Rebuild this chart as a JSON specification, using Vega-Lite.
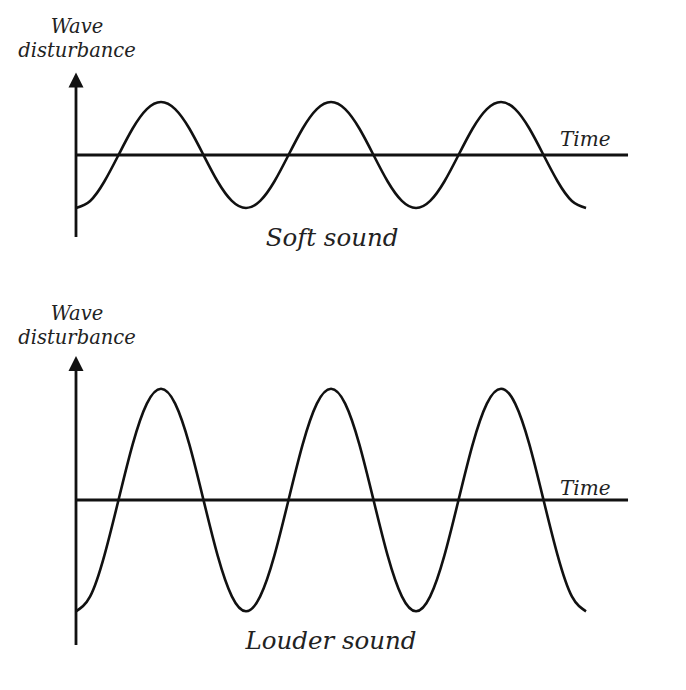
{
  "$schema": "https://vega.github.io/schema/vega-lite/v6.json",
  "padding": 0,
  "spacing": 0,
  "background": "white",
  "config": {"view": {"stroke": null}, "concat": {"spacing": 0}},
  "datasets": {
    "soft": [
      {"t":0,"v":-1},{"t":0.0833,"v":-0.866},{"t":0.1667,"v":-0.5},{"t":0.25,"v":0},{"t":0.3333,"v":0.5},{"t":0.4167,"v":0.866},{"t":0.5,"v":1},{"t":0.5833,"v":0.866},{"t":0.6667,"v":0.5},{"t":0.75,"v":0},{"t":0.8333,"v":-0.5},{"t":0.9167,"v":-0.866},
      {"t":1,"v":-1},{"t":1.0833,"v":-0.866},{"t":1.1667,"v":-0.5},{"t":1.25,"v":0},{"t":1.3333,"v":0.5},{"t":1.4167,"v":0.866},{"t":1.5,"v":1},{"t":1.5833,"v":0.866},{"t":1.6667,"v":0.5},{"t":1.75,"v":0},{"t":1.8333,"v":-0.5},{"t":1.9167,"v":-0.866},
      {"t":2,"v":-1},{"t":2.0833,"v":-0.866},{"t":2.1667,"v":-0.5},{"t":2.25,"v":0},{"t":2.3333,"v":0.5},{"t":2.4167,"v":0.866},{"t":2.5,"v":1},{"t":2.5833,"v":0.866},{"t":2.6667,"v":0.5},{"t":2.75,"v":0},{"t":2.8333,"v":-0.5},{"t":2.9167,"v":-0.866},
      {"t":3,"v":-1}
    ],
    "loud": [
      {"t":0,"v":-2.1},{"t":0.0833,"v":-1.819},{"t":0.1667,"v":-1.05},{"t":0.25,"v":0},{"t":0.3333,"v":1.05},{"t":0.4167,"v":1.819},{"t":0.5,"v":2.1},{"t":0.5833,"v":1.819},{"t":0.6667,"v":1.05},{"t":0.75,"v":0},{"t":0.8333,"v":-1.05},{"t":0.9167,"v":-1.819},
      {"t":1,"v":-2.1},{"t":1.0833,"v":-1.819},{"t":1.1667,"v":-1.05},{"t":1.25,"v":0},{"t":1.3333,"v":1.05},{"t":1.4167,"v":1.819},{"t":1.5,"v":2.1},{"t":1.5833,"v":1.819},{"t":1.6667,"v":1.05},{"t":1.75,"v":0},{"t":1.8333,"v":-1.05},{"t":1.9167,"v":-1.819},
      {"t":2,"v":-2.1},{"t":2.0833,"v":-1.819},{"t":2.1667,"v":-1.05},{"t":2.25,"v":0},{"t":2.3333,"v":1.05},{"t":2.4167,"v":1.819},{"t":2.5,"v":2.1},{"t":2.5833,"v":1.819},{"t":2.6667,"v":1.05},{"t":2.75,"v":0},{"t":2.8333,"v":-1.05},{"t":2.9167,"v":-1.819},
      {"t":3,"v":-2.1}
    ]
  },
  "vconcat": [
    {
      "width": 686,
      "height": 290,
      "layer": [
        {
          "data": {"values": [{"x": 0, "y1": -1.547, "y2": 1.35}]},
          "mark": {"type": "rule", "color": "#111", "strokeWidth": 2.8},
          "encoding": {
            "x": {"field": "x", "type": "quantitative", "axis": null, "scale": {"domain": [-0.447, 3.588], "nice": false, "zero": false}},
            "y": {"field": "y1", "type": "quantitative", "axis": null, "scale": {"domain": [-2.547, 2.925], "nice": false, "zero": false}},
            "y2": {"field": "y2"}
          }
        },
        {
          "data": {"values": [{"x1": 0, "x2": 3.247, "y": 0}]},
          "mark": {"type": "rule", "color": "#111", "strokeWidth": 2.8},
          "encoding": {
            "x": {"field": "x1", "type": "quantitative"},
            "x2": {"field": "x2"},
            "y": {"field": "y", "type": "quantitative"}
          }
        },
        {
          "data": {"values": [{"x": 0, "y": 1.415}]},
          "mark": {"type": "point", "shape": "M0,-1L1,1L-1,1Z", "size": 225, "filled": true, "color": "#111", "opacity": 1, "strokeWidth": 0},
          "encoding": {
            "x": {"field": "x", "type": "quantitative"},
            "y": {"field": "y", "type": "quantitative"}
          }
        },
        {
          "data": {"name": "soft"},
          "mark": {"type": "line", "interpolate": "natural", "color": "#111", "strokeWidth": 2.6},
          "encoding": {
            "x": {"field": "t", "type": "quantitative"},
            "y": {"field": "v", "type": "quantitative"}
          }
        },
        {
          "data": {"values": [{"x": 0.006, "y": 2.302, "label": "Wave"}, {"x": 0.006, "y": 1.849, "label": "disturbance"}]},
          "mark": {"type": "text", "font": "DejaVu Serif", "fontStyle": "italic", "fontSize": 19.5, "align": "center", "baseline": "alphabetic", "color": "#222"},
          "encoding": {
            "x": {"field": "x", "type": "quantitative"},
            "y": {"field": "y", "type": "quantitative"},
            "text": {"field": "label"}
          }
        },
        {
          "data": {"values": [{"x": 2.847, "y": 0.17, "label": "Time"}]},
          "mark": {"type": "text", "font": "DejaVu Serif", "fontStyle": "italic", "fontSize": 20, "align": "left", "baseline": "alphabetic", "color": "#222"},
          "encoding": {
            "x": {"field": "x", "type": "quantitative"},
            "y": {"field": "y", "type": "quantitative"},
            "text": {"field": "label"}
          }
        },
        {
          "data": {"values": [{"x": 1.506, "y": -1.717, "label": "Soft sound"}]},
          "mark": {"type": "text", "font": "DejaVu Serif", "fontStyle": "italic", "fontSize": 24.5, "align": "center", "baseline": "alphabetic", "color": "#222"},
          "encoding": {
            "x": {"field": "x", "type": "quantitative"},
            "y": {"field": "y", "type": "quantitative"},
            "text": {"field": "label"}
          }
        }
      ]
    },
    {
      "width": 686,
      "height": 400,
      "layer": [
        {
          "data": {"values": [{"x": 0, "y1": -2.736, "y2": 2.5}]},
          "mark": {"type": "rule", "color": "#111", "strokeWidth": 2.8},
          "encoding": {
            "x": {"field": "x", "type": "quantitative", "axis": null, "scale": {"domain": [-0.447, 3.588], "nice": false, "zero": false}},
            "y": {"field": "y1", "type": "quantitative", "axis": null, "scale": {"domain": [-3.585, 3.962], "nice": false, "zero": false}},
            "y2": {"field": "y2"}
          }
        },
        {
          "data": {"values": [{"x1": 0, "x2": 3.247, "y": 0}]},
          "mark": {"type": "rule", "color": "#111", "strokeWidth": 2.8},
          "encoding": {
            "x": {"field": "x1", "type": "quantitative"},
            "x2": {"field": "x2"},
            "y": {"field": "y", "type": "quantitative"}
          }
        },
        {
          "data": {"values": [{"x": 0, "y": 2.575}]},
          "mark": {"type": "point", "shape": "M0,-1L1,1L-1,1Z", "size": 225, "filled": true, "color": "#111", "opacity": 1, "strokeWidth": 0},
          "encoding": {
            "x": {"field": "x", "type": "quantitative"},
            "y": {"field": "y", "type": "quantitative"}
          }
        },
        {
          "data": {"name": "loud"},
          "mark": {"type": "line", "interpolate": "natural", "color": "#111", "strokeWidth": 2.6},
          "encoding": {
            "x": {"field": "t", "type": "quantitative"},
            "y": {"field": "v", "type": "quantitative"}
          }
        },
        {
          "data": {"values": [{"x": 0.006, "y": 3.396, "label": "Wave"}, {"x": 0.006, "y": 2.943, "label": "disturbance"}]},
          "mark": {"type": "text", "font": "DejaVu Serif", "fontStyle": "italic", "fontSize": 19.5, "align": "center", "baseline": "alphabetic", "color": "#222"},
          "encoding": {
            "x": {"field": "x", "type": "quantitative"},
            "y": {"field": "y", "type": "quantitative"},
            "text": {"field": "label"}
          }
        },
        {
          "data": {"values": [{"x": 2.847, "y": 0.1, "label": "Time"}]},
          "mark": {"type": "text", "font": "DejaVu Serif", "fontStyle": "italic", "fontSize": 20, "align": "left", "baseline": "alphabetic", "color": "#222"},
          "encoding": {
            "x": {"field": "x", "type": "quantitative"},
            "y": {"field": "y", "type": "quantitative"},
            "text": {"field": "label"}
          }
        },
        {
          "data": {"values": [{"x": 1.5, "y": -2.811, "label": "Louder sound"}]},
          "mark": {"type": "text", "font": "DejaVu Serif", "fontStyle": "italic", "fontSize": 24.5, "align": "center", "baseline": "alphabetic", "color": "#222"},
          "encoding": {
            "x": {"field": "x", "type": "quantitative"},
            "y": {"field": "y", "type": "quantitative"},
            "text": {"field": "label"}
          }
        }
      ]
    }
  ]
}
